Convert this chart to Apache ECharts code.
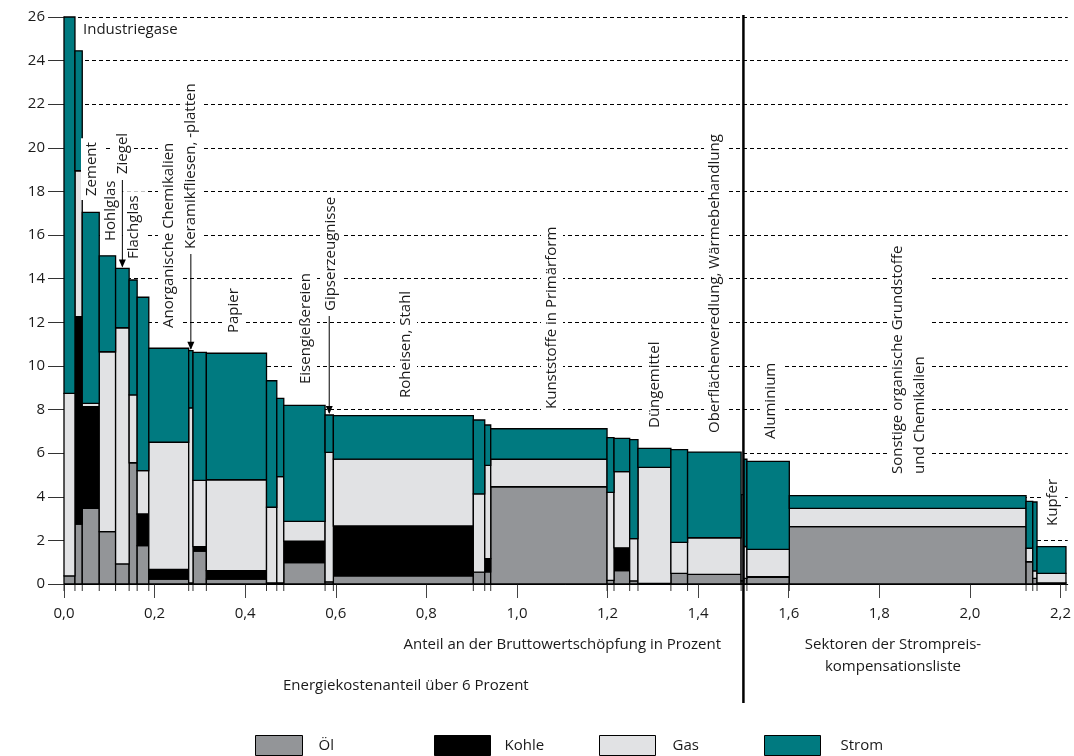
<!DOCTYPE html>
<html><head><meta charset="utf-8">
<script src="https://cdn.jsdelivr.net/npm/echarts@6/dist/echarts.min.js"></script>
<style>html,body{margin:0;padding:0;background:#fff}#c{width:1074px;height:756px}</style>
</head><body><div id="c"></div>
<script>
// Anteil an der Bruttowertschöpfung (Breite) je Sektor, in Prozent
const widths = [0.0242,0.0161,0.0375,0.0361,0.0299,0.0177,0.0257,0.0881,0.0095,0.0295,0.1328,0.0227,0.0154,0.0912,0.0183,0.3090,0.0252,0.0132,0.2568,0.0154,0.0346,0.0183,0.0727,0.0368,0.1182,0.0058,0.0070,0.0936,0.5227,0.0148,0.0094,0.0639];
// Energiekostenanteile je Energieträger (Prozent)
const oel   = [0.37,2.75,3.47,2.40,0.92,5.56,1.76,0.22,0.05,1.51,0.22,0.05,0.05,0.98,0.10,0.37,0.54,0.56,4.46,0.17,0.61,0.14,0.03,0.49,0.44,0.15,0.26,0.30,2.63,1.02,0.26,0.05];
const kohle = [0,9.51,4.66,0,0,0,1.45,0.45,0,0.20,0.39,0,0,0.98,0,2.29,0,0.60,0,0,1.05,0,0,0,0,0,0,0.04,0,0,0,0];
const gas   = [8.37,6.69,0.15,8.25,10.83,3.11,1.99,5.83,8.03,3.04,4.17,3.47,4.87,0.91,5.94,3.07,3.59,4.28,1.26,4.03,3.49,1.94,5.32,1.42,1.68,3.95,1.46,1.25,0.84,0.62,0.34,0.44];
const strom = [17.26,5.50,8.76,4.40,2.72,5.27,7.95,4.31,2.62,5.87,5.80,5.80,3.59,5.32,1.71,1.99,3.39,1.85,1.40,2.51,1.53,4.54,0.87,4.25,3.93,0,4.00,4.03,0.58,2.15,3.16,1.22];
const xTicks = [0,0.2,0.4,0.6,0.8,1.0,1.2,1.4,1.6,1.8,2.0,2.2];
const divider = 1.5;

const FONT = 'Open Sans';
const FS = 15;

const starts = []; let acc = 0;
widths.forEach(w => { starts.push(acc); acc += w; });
const bounds = starts.concat([acc]);

function renderBar(params, api) {
  const x0 = api.value(0), x1 = api.value(1), y0 = api.value(2), y1 = api.value(3);
  if (y1 - y0 <= 0) return null;
  const p0 = api.coord([x0, y1]), p1 = api.coord([x1, y0]);
  return { type: 'rect', shape: { x: p0[0], y: p0[1], width: p1[0] - p0[0], height: p1[1] - p0[1] },
    style: { fill: api.visual('color'), stroke: '#000', lineWidth: 1.3 } };
}
function renderTick(params, api) {
  const p = api.coord([api.value(0), 0]);
  return { type: 'line', shape: { x1: p[0], y1: p[1], x2: p[0], y2: p[1] + 7 }, style: { stroke: '#333', lineWidth: 1 } };
}

const comps = [['Öl', oel, '#939598'], ['Kohle', kohle, '#000000'], ['Gas', gas, '#e1e2e4'], ['Strom', strom, '#007a80']];
const base = widths.map(() => 0);
const series = comps.map(([name, vals, color]) => {
  const data = vals.map((v, i) => { const y0 = base[i]; base[i] += v; return [starts[i], starts[i] + widths[i], y0, y0 + v]; });
  return { type: 'custom', name, renderItem: renderBar, data, encode: { x: [0, 1], y: [2, 3] }, itemStyle: { color, borderColor: '#000', borderWidth: 1 }, z: 3 };
});
series.push({ type: 'custom', name: 'ticks', renderItem: renderTick, data: bounds.map(b => [b]), encode: { x: 0 }, silent: true, clip: false, z: 1 });

const txt = { color: '#1a1a1a', fontFamily: FONT, fontSize: FS };
const legendLeft = [255, 434, 599, 764];
const legendBoxW = [47, 56, 56, 56];
const legendGap = [11, 9, 12, 15];
const legends = comps.map((c, i) => ({ data: [c[0]], left: legendLeft[i], top: 735, padding: 0,
  itemWidth: legendBoxW[i], itemHeight: 20, icon: 'rect', itemStyle: { borderColor: '#000', borderWidth: 1 },
  textStyle: { ...txt, padding: [0, 0, 0, legendGap[i]] } }));

const chart = echarts.init(document.getElementById('c'));
chart.setOption({
  animation: false,
  grid: { left: 64, right: 4, top: 17, bottom: 172 },
  xAxis: { type: 'value', min: 0, max: 2.216, interval: 0.2,
    axisLine: { lineStyle: { color: '#000', width: 1 } },
    axisTick: { length: 14, lineStyle: { color: '#444' }, customValues: xTicks },
    axisLabel: { customValues: xTicks, margin: 22, ...txt, formatter: v => v.toFixed(1).replace('.', ',') },
    splitLine: { show: false } },
  yAxis: { type: 'value', min: 0, max: 26, interval: 2,
    axisLine: { show: true, lineStyle: { color: '#555' } },
    axisTick: { show: true, length: 16, lineStyle: { color: '#333' } },
    axisLabel: { margin: 19, ...txt },
    splitLine: { show: true, lineStyle: { color: '#000', type: [4, 3], width: 1 } } },
  legend: legends,
  series
});

const px = v => chart.convertToPixel({ xAxisIndex: 0, yAxisIndex: 0 }, v);
const tops = widths.map((w, i) => oel[i] + kohle[i] + gas[i] + strom[i]);

const vlabels = [
  { t: 'Zement', x: 92, y: 200 },
  { t: 'Hohlglas', x: 111, y: 245 },
  { t: 'Ziegel', x: 123, y: 178 },
  { t: 'Flachglas', x: 134, y: 263 },
  { t: 'Anorganische Chemikalien', x: 169, y: 332 },
  { t: 'Keramikfliesen, -platten', x: 191, y: 253 },
  { t: 'Papier', x: 234, y: 337 },
  { t: 'Eisengießereien', x: 306, y: 388 },
  { t: 'Gipserzeugnisse', x: 331, y: 315 },
  { t: 'Roheisen, Stahl', x: 406, y: 402 },
  { t: 'Kunststoffe in Primärform', x: 552, y: 413 },
  { t: 'Düngemittel', x: 655, y: 432 },
  { t: 'Oberflächenveredlung, Wärmebehandlung', x: 715, y: 437 },
  { t: 'Aluminium', x: 771, y: 443 },
  { t: 'Sonstige organische Grundstoffe\nund Chemikalien', x: 909, y: 478 },
  { t: 'Kupfer', x: 1053, y: 530 }
];
const arrows = [ { bar: 4, fromY: 180 }, { bar: 8, fromY: 254 }, { bar: 14, fromY: 316 } ];

const g = [];
vlabels.forEach(l => g.push({ type: 'text', x: l.x, y: l.y, rotation: Math.PI / 2, z: 50,
  style: { text: l.t, x: 0, y: 0, align: 'left', verticalAlign: 'middle', fill: '#1a1a1a', font: FS + 'px "' + FONT + '"', lineHeight: 22, backgroundColor: '#fff', padding: [0, 4] } }));
g.push({ type: 'text', x: 80, y: 30, z: 50, style: { text: 'Industriegase', align: 'left', verticalAlign: 'middle', fill: '#1a1a1a', font: FS + 'px "' + FONT + '"', backgroundColor: '#fff', padding: [0, 3] } });
arrows.forEach(a => {
  const xm = starts[a.bar] + widths[a.bar] / 2;
  const tip = px([xm, tops[a.bar]]);
  g.push({ type: 'line', z: 50, shape: { x1: tip[0], y1: a.fromY, x2: tip[0], y2: tip[1] - 2 }, style: { stroke: '#000', lineWidth: 1 } });
  g.push({ type: 'polygon', z: 50, shape: { points: [[tip[0] - 3.5, tip[1] - 9], [tip[0] + 3.5, tip[1] - 9], [tip[0], tip[1] - 1]] }, style: { fill: '#000' } });
});
const dx = px([divider, 0])[0];
g.push({ type: 'line', z: 60, shape: { x1: dx, y1: 15, x2: dx, y2: 703 }, style: { stroke: '#000', lineWidth: 2.5 } });
g.push({ type: 'text', x: 721, y: 645, style: { text: 'Anteil an der Bruttowertschöpfung in Prozent', align: 'right', verticalAlign: 'middle', fill: '#1a1a1a', font: FS + 'px "' + FONT + '"' } });
g.push({ type: 'text', x: 283, y: 686, style: { text: 'Energiekostenanteil über 6 Prozent', align: 'left', verticalAlign: 'middle', fill: '#1a1a1a', font: FS + 'px "' + FONT + '"' } });
g.push({ type: 'text', x: 893, y: 656, style: { text: 'Sektoren der Strompreis-\nkompensationsliste', align: 'center', verticalAlign: 'middle', lineHeight: 22, fill: '#1a1a1a', font: FS + 'px "' + FONT + '"' } });
chart.setOption({ graphic: g });
</script></body></html>
